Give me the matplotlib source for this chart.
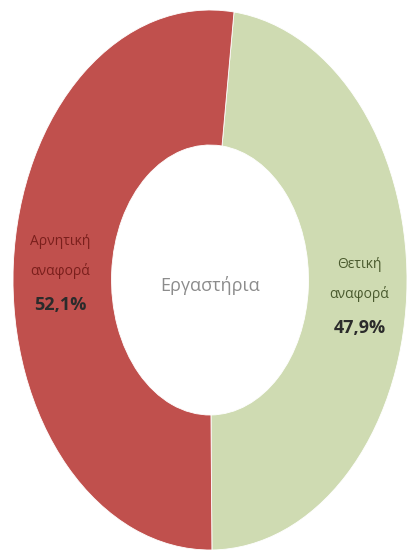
import numpy as np
import matplotlib.pyplot as plt

plt.rcParams['font.family'] = ['Open Sans', 'DejaVu Sans']

# Κατανομή αναφορών για τα εργαστήρια
labels = ['Θετική\nαναφορά', 'Αρνητική\nαναφορά']
values = [47.9, 52.1]
colors = ['#CFDBB2', '#C0504D']
text_colors = ['#4A5A2E', '#7A1F1C']
center_title = 'Εργαστήρια'

fig = plt.figure(figsize=(4.07, 5.53), dpi=100)
ax = fig.add_axes([13 / 407, 3 / 553, 394 / 407, 540 / 553])

wedges, _ = ax.pie(values, colors=colors, startangle=83, counterclock=False,
                   radius=1.0, wedgeprops=dict(width=0.5, edgecolor='white', linewidth=0.6))
ax.set_aspect('auto')
ax.set_xlim(-1, 1)
ax.set_ylim(-1, 1)
ax.axis('off')

# ετικέτες στο μέσο κάθε τομέα του δακτυλίου
for w, lab, val, tc in zip(wedges, labels, values, text_colors):
    ang = np.deg2rad((w.theta1 + w.theta2) / 2)
    x = 0.76 * np.cos(ang)
    y = 0.76 * np.sin(ang)
    ax.text(x, y + 0.045, lab, ha='center', va='center', fontsize=10,
            color=tc, linespacing=2.2)
    ax.text(x, y - 0.135, f'{val:.1f}%'.replace('.', ','), ha='center', va='center',
            fontsize=13, fontweight='bold', color='#2B2B2B')

ax.text(0.0, -0.02, center_title, ha='center', va='center', fontsize=13, color='#8C8C8C')

fig.savefig('out.png', dpi=100)
